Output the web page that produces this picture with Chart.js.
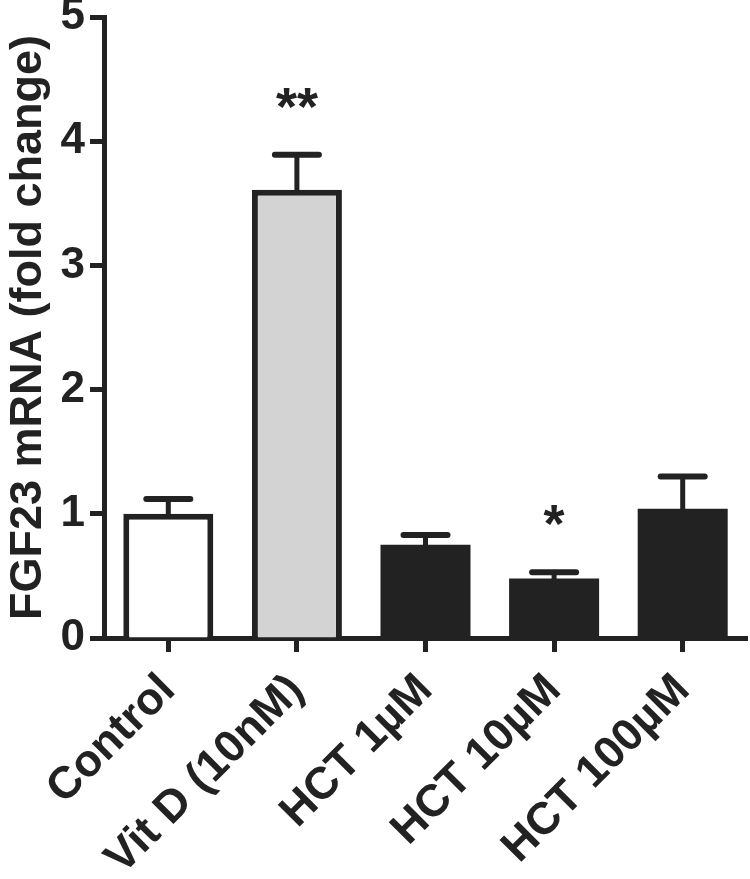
<!DOCTYPE html>
<html>
<head>
<meta charset="utf-8">
<script src="https://cdn.jsdelivr.net/npm/chart.js@4.4.1/dist/chart.umd.min.js"></script>
<style>
  html, body { margin: 0; padding: 0; background: #fff; }
  #wrap { width: 750px; height: 879px; }
</style>
</head>
<body>
<div id="wrap"><canvas id="fgfPlot" width="750" height="879"></canvas></div>
<script>
// Data
var groups = ['Control', 'Vit D (10nM)', 'HCT 1\u00b5M', 'HCT 10\u00b5M', 'HCT 100\u00b5M'];
var foldChange = [1.00, 3.61, 0.75, 0.48, 1.04];
var sem = [0.12, 0.28, 0.08, 0.05, 0.26];
var stars = ['', '**', '', '*', ''];
var yTicks = [0, 1, 2, 3, 4, 5];

var INK = '#222222';
var FONT = '"Liberation Sans", Arial, sans-serif';
var fills = ['#ffffff', '#d3d3d3', INK, INK, INK];
var borders = [6, 6, 0, 0, 0];

// error bars + significance marks
var errorBarPlugin = {
    id: 'errorBars',
    afterDatasetsDraw: function(chart) {
        var ctx = chart.ctx;
        var yScale = chart.scales.y;
        var meta = chart.getDatasetMeta(0);
        ctx.save();
        ctx.strokeStyle = INK;
        ctx.fillStyle = INK;
        ctx.lineCap = 'round';
        meta.data.forEach(function(bar, i) {
            var yTop = yScale.getPixelForValue(foldChange[i]);
            var yErr = yScale.getPixelForValue(foldChange[i] + sem[i]);
            ctx.lineWidth = 5;
            ctx.beginPath();
            ctx.moveTo(bar.x, yTop);
            ctx.lineTo(bar.x, yErr);
            ctx.stroke();
            ctx.lineWidth = 6;
            ctx.beginPath();
            ctx.moveTo(bar.x - 22, yErr);
            ctx.lineTo(bar.x + 22, yErr);
            ctx.stroke();
            if (stars[i]) {
                ctx.font = 'bold 54px ' + FONT;
                ctx.textAlign = 'center';
                ctx.textBaseline = 'alphabetic';
                ctx.fillText(stars[i], bar.x, yErr - 30);
            }
        });
        ctx.restore();
    }
};

var fgfPlot = new Chart(document.getElementById('fgfPlot'), {
    type: 'bar',
    data: {
        labels: groups,
        datasets: [{
            data: foldChange,
            backgroundColor: fills,
            borderColor: INK,
            borderWidth: borders,
            barPercentage: 0.7,
            categoryPercentage: 1.0
        }]
    },
    options: {
        responsive: false,
        animation: false,
        devicePixelRatio: 1,
        layout: { padding: { top: 17, right: 3, left: 0, bottom: 0 } },
        plugins: {
            legend: { display: false },
            tooltip: { enabled: false }
        },
        scales: {
            x: {
                grid: {
                    offset: false,
                    drawOnChartArea: false,
                    drawTicks: true,
                    tickLength: 14,
                    tickWidth: 5,
                    tickColor: INK
                },
                border: { display: true, width: 5, color: INK },
                ticks: {
                    color: INK,
                    font: { family: FONT, size: 45, weight: 'bold' },
                    maxRotation: 45,
                    minRotation: 45,
                    padding: 12,
                    autoSkip: false
                },
                afterFit: function(scale) {
                    scale.height = 241;
                    scale.paddingLeft = 0;
                    scale.paddingRight = 0;
                }
            },
            y: {
                min: 0,
                max: 5,
                afterBuildTicks: function(scale) {
                    scale.ticks = yTicks.map(function(v) { return { value: v }; });
                },
                grid: {
                    drawOnChartArea: false,
                    drawTicks: true,
                    tickLength: 14,
                    tickWidth: 5,
                    tickColor: INK
                },
                border: { display: true, width: 5, color: INK },
                ticks: {
                    color: INK,
                    font: { family: FONT, size: 44, weight: 'bold' },
                    padding: 5
                },
                title: {
                    display: true,
                    text: 'FGF23 mRNA (fold change)',
                    color: INK,
                    font: { family: FONT, size: 45, weight: 'bold' },
                    padding: { top: 2, bottom: 0 }
                },
                afterFit: function(scale) {
                    scale.width = 104;
                    scale.paddingTop = 0;
                    scale.paddingBottom = 0;
                }
            }
        }
    },
    plugins: [errorBarPlugin]
});
</script>
</body>
</html>
